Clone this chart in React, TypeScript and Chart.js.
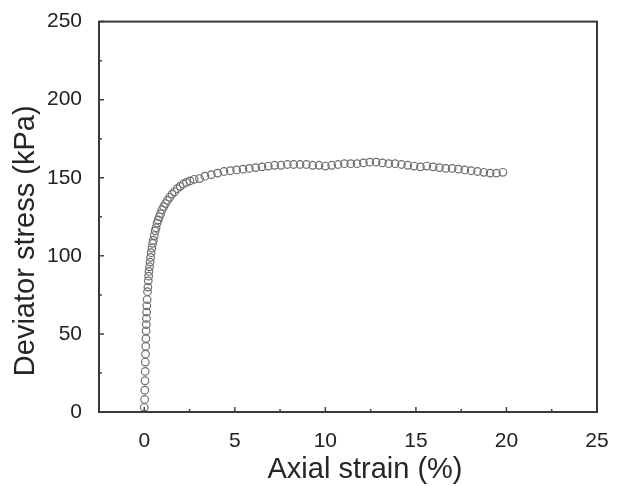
import React, { useEffect, useRef } from "react";
import { Chart, registerables } from "chart.js";

Chart.register(...registerables);

const strain = [
  0.0, 0.02, 0.03, 0.04, 0.05, 0.06, 0.07, 0.08, 0.09, 0.1, 0.11, 0.12, 0.13, 0.14, 0.16, 0.18,
  0.2, 0.22, 0.24, 0.26, 0.29, 0.32, 0.35, 0.38, 0.42, 0.46, 0.5, 0.55, 0.6, 0.65, 0.71, 0.77,
  0.83, 0.9, 0.98, 1.07, 1.17, 1.28, 1.4, 1.53, 1.67, 1.82, 1.98, 2.15, 2.33, 2.52, 2.75,
  3.05, 3.35, 3.7, 4.05, 4.4, 4.75, 5.1, 5.45,
  5.8, 6.15, 6.5, 6.85, 7.2, 7.55, 7.9, 8.25, 8.6, 8.95, 9.3, 9.65, 10.0, 10.35, 10.7, 11.05,
  11.4, 11.75, 12.1, 12.45, 12.8, 13.15, 13.5, 13.85, 14.2, 14.55, 14.9, 15.25, 15.6, 15.95,
  16.3, 16.65, 17.0, 17.35, 17.7, 18.05, 18.4, 18.75, 19.1, 19.45, 19.8,
];
const stress = [
  3, 8, 14, 20, 26, 32, 37, 42, 47, 52, 56, 60, 64, 68, 72, 77,
  80, 84, 87, 90, 93, 96, 99, 102, 105, 108, 110, 113, 116, 118, 121, 123,
  125, 127, 129.5, 131.5, 133.5, 135.5, 137.5, 139.5, 141, 143, 144.5, 146, 147, 148, 149,
  149.5, 151, 152, 153, 154, 154.5, 155, 155.5,
  156, 156.5, 157, 157.5, 158, 158, 158.5, 158.5, 158.5, 158.5, 158, 158, 157.5, 158, 158.5, 159,
  159, 159, 159.5, 160, 160, 159.5, 159, 159, 158.5, 158, 157.5, 157, 157.5, 157,
  156.5, 156, 156, 155.5, 155, 154.5, 154, 153.5, 153, 153, 153.5,
];

const xMajor = [0, 5, 10, 15, 20, 25];
const xMinor = [2.5, 7.5, 12.5, 17.5, 22.5];
const yMajor = [0, 50, 100, 150, 200, 250];
const yMinor = [25, 75, 125, 175, 225];

const X_TITLE = "Axial strain (%)";
const Y_TITLE = "Deviator stress (kPa)";
const FONT = "'Liberation Sans', Arial, Helvetica, sans-serif";

const framePlugin = {
  id: "frameTicks",
  afterDraw(chart: any) {
    const { ctx, chartArea: a, scales } = chart;
    const xs = scales.x;
    const ys = scales.y;
    ctx.save();
    ctx.strokeStyle = "#444";
    ctx.lineWidth = 1.5;
    ctx.beginPath();
    xMajor.forEach((v) => {
      const p = xs.getPixelForValue(v);
      ctx.moveTo(p, a.bottom);
      ctx.lineTo(p, a.bottom - 5);
    });
    xMinor.forEach((v) => {
      const p = xs.getPixelForValue(v);
      ctx.moveTo(p, a.bottom);
      ctx.lineTo(p, a.bottom - 3);
    });
    yMajor.forEach((v) => {
      const p = ys.getPixelForValue(v);
      ctx.moveTo(a.left, p);
      ctx.lineTo(a.left + 5, p);
    });
    yMinor.forEach((v) => {
      const p = ys.getPixelForValue(v);
      ctx.moveTo(a.left, p);
      ctx.lineTo(a.left + 3, p);
    });
    ctx.stroke();
    ctx.lineWidth = 2;
    ctx.strokeStyle = "#3a3a3a";
    ctx.strokeRect(a.left, a.top, a.right - a.left, a.bottom - a.top);

    ctx.fillStyle = "#262626";
    ctx.font = `29px ${FONT}`;
    ctx.textAlign = "center";
    ctx.textBaseline = "alphabetic";
    ctx.fillText(X_TITLE, (a.left + a.right) / 2 + 17, 478);
    ctx.translate(34, (a.top + a.bottom) / 2 + 24);
    ctx.rotate(-Math.PI / 2);
    ctx.fillText(Y_TITLE, 0, 0);
    ctx.restore();
  },
};

export default function App() {
  const ref = useRef<HTMLCanvasElement>(null);
  useEffect(() => {
    if (!ref.current) return;
    const data = strain.map((x, i) => ({ x, y: stress[i] }));
    const chart = new Chart(ref.current, {
      type: "scatter",
      data: {
        datasets: [
          {
            data,
            showLine: false,
            pointStyle: "circle",
            pointRadius: 3.8,
            pointBorderWidth: 1.2,
            borderColor: "#6e6e6e",
            backgroundColor: "rgba(0,0,0,0)",
            pointBackgroundColor: "rgba(0,0,0,0)",
            pointBorderColor: "#6e6e6e",
            clip: false,
          } as any,
        ],
      },
      plugins: [framePlugin],
      options: {
        animation: false,
        responsive: false,
        maintainAspectRatio: false,
        layout: { padding: { top: 15, right: 26, left: 0, bottom: 0 } },
        plugins: { legend: { display: false }, tooltip: { enabled: false } },
        scales: {
          x: {
            type: "linear",
            min: -2.5,
            max: 25,
            grid: { display: false },
            border: { display: false },
            afterBuildTicks: (s: any) => {
              s.ticks = xMajor.map((v) => ({ value: v }));
            },
            afterFit: (s: any) => {
              s.height = 74;
            },
            ticks: {
              padding: 9,
              color: "#222",
              font: { family: FONT, size: 21 },
              maxRotation: 0,
            },
          },
          y: {
            type: "linear",
            min: 0,
            max: 250,
            grid: { display: false },
            border: { display: false },
            afterBuildTicks: (s: any) => {
              s.ticks = yMajor.map((v) => ({ value: v }));
            },
            afterFit: (s: any) => {
              s.width = 99;
            },
            ticks: {
              padding: 9,
              color: "#222",
              font: { family: FONT, size: 21 },
            },
          },
        },
      },
    });
    return () => chart.destroy();
  }, []);
  return (
    <div style={{ position: "fixed", left: 0, top: 0, width: 623, height: 486, background: "#fff" }}>
      <canvas ref={ref} width={623} height={486} style={{ width: 623, height: 486, display: "block" }} />
    </div>
  );
}
